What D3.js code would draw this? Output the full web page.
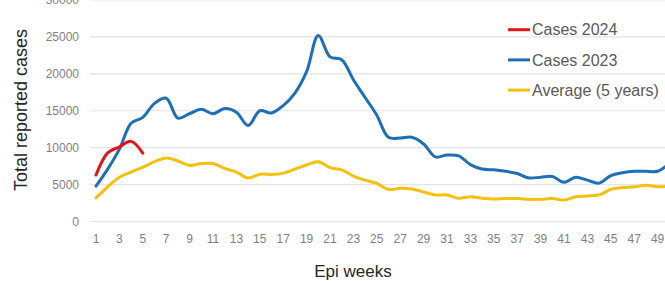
<!DOCTYPE html>
<html>
<head>
<meta charset="utf-8">
<script src="https://cdn.jsdelivr.net/npm/d3@7"></script>
<style>
  body { margin: 0; background: #fff; }
  svg { display: block; font-family: "Liberation Sans", Arial, sans-serif; }
</style>
</head>
<body>
<script>
// epi weeks
var weeks2024 = [1, 2, 3, 4, 5];
var cases2024 = [6300, 9300, 10100, 10850, 9250];

var weeks2023 = d3.range(1, 51);
var cases2023 = [4800, 7100, 9800, 13300, 14100, 16000, 16700, 14000, 14600, 15200,
                 14600, 15300, 14800, 13000, 15000, 14700, 15700, 17400, 20300, 25200,
                 22300, 21900, 19200, 16800, 14400, 11400, 11300, 11400, 10500, 8750,
                 9000, 8900, 7700, 7100, 7000, 6800, 6500, 5900, 6000, 6100,
                 5300, 6000, 5600, 5200, 6200, 6600, 6800, 6800, 6800, 7900];

var average5y = [3200, 4700, 6000, 6700, 7350, 8100, 8600, 8200, 7600, 7850,
                 7850, 7200, 6700, 5900, 6400, 6350, 6550, 7100, 7650, 8100,
                 7300, 7000, 6150, 5600, 5150, 4350, 4500, 4400, 4000, 3600,
                 3600, 3150, 3350, 3150, 3050, 3100, 3100, 3000, 3000, 3100,
                 2900, 3350, 3450, 3600, 4350, 4600, 4700, 4900, 4700, 4800];

var yTicks = [0, 5000, 10000, 15000, 20000, 25000, 30000];
var xTicks = d3.range(1, 52, 2);

var series = [
  { name: "Cases 2024", color: "#e3141c", x: weeks2024, y: cases2024 },
  { name: "Cases 2023", color: "#1f6fb6", x: weeks2023, y: cases2023 },
  { name: "Average (5 years)", color: "#f4c10f", x: weeks2023, y: average5y }
];

var W = 665, H = 281;
var svg = d3.select("body").append("svg")
  .attr("width", W)
  .attr("height", H);

var x = d3.scaleLinear().domain([1, 52]).range([96, 96 + 51 * 11.7]);
var y = d3.scaleLinear().domain([0, 30000]).range([221.5, 0]);

// gridlines
svg.append("g").selectAll("line")
  .data(yTicks)
  .enter().append("line")
    .attr("x1", 90).attr("x2", W)
    .attr("y1", function(d) { return y(d); })
    .attr("y2", function(d) { return y(d); })
    .attr("stroke", "#e3e3e3")
    .attr("stroke-width", 1.2);

// y tick labels
svg.append("g").selectAll("text")
  .data(yTicks)
  .enter().append("text")
    .attr("x", 79)
    .attr("y", function(d) { return y(d) + 4.3; })
    .attr("text-anchor", "end")
    .attr("font-size", 12)
    .attr("fill", "#7f7f7f")
    .text(function(d) { return d; });

// x tick labels
svg.append("g").selectAll("text")
  .data(xTicks)
  .enter().append("text")
    .attr("x", function(d) { return x(d); })
    .attr("y", 243)
    .attr("text-anchor", "middle")
    .attr("font-size", 12)
    .attr("fill", "#7f7f7f")
    .text(function(d) { return d; });

// lines, drawn back to front
var line = d3.line().curve(d3.curveCatmullRom.alpha(0.5));
series.slice().reverse().forEach(function(s) {
  svg.append("path")
    .datum(s.x.map(function(w, i) { return [x(w), y(s.y[i])]; }))
    .attr("d", line)
    .attr("fill", "none")
    .attr("stroke", s.color)
    .attr("stroke-width", 3)
    .attr("stroke-linejoin", "round")
    .attr("stroke-linecap", "round");
});

// legend
var legend = svg.append("g").selectAll("g")
  .data(series)
  .enter().append("g")
    .attr("transform", function(d, i) { return "translate(508," + (29.7 + i * 30.2) + ")"; });
legend.append("line")
  .attr("x1", 0).attr("x2", 22)
  .attr("stroke", function(d) { return d.color; })
  .attr("stroke-width", 3);
legend.append("text")
  .attr("x", 24)
  .attr("y", 5.6)
  .attr("font-size", 16)
  .attr("fill", "#595959")
  .text(function(d) { return d.name; });

// axis titles
svg.append("text")
  .attr("x", 353).attr("y", 277)
  .attr("text-anchor", "middle")
  .attr("font-size", 17)
  .attr("fill", "#262626")
  .text("Epi weeks");

svg.append("text")
  .attr("transform", "translate(27,110) rotate(-90)")
  .attr("text-anchor", "middle")
  .attr("font-size", 18)
  .attr("fill", "#262626")
  .text("Total reported cases");
</script>
</body>
</html>
